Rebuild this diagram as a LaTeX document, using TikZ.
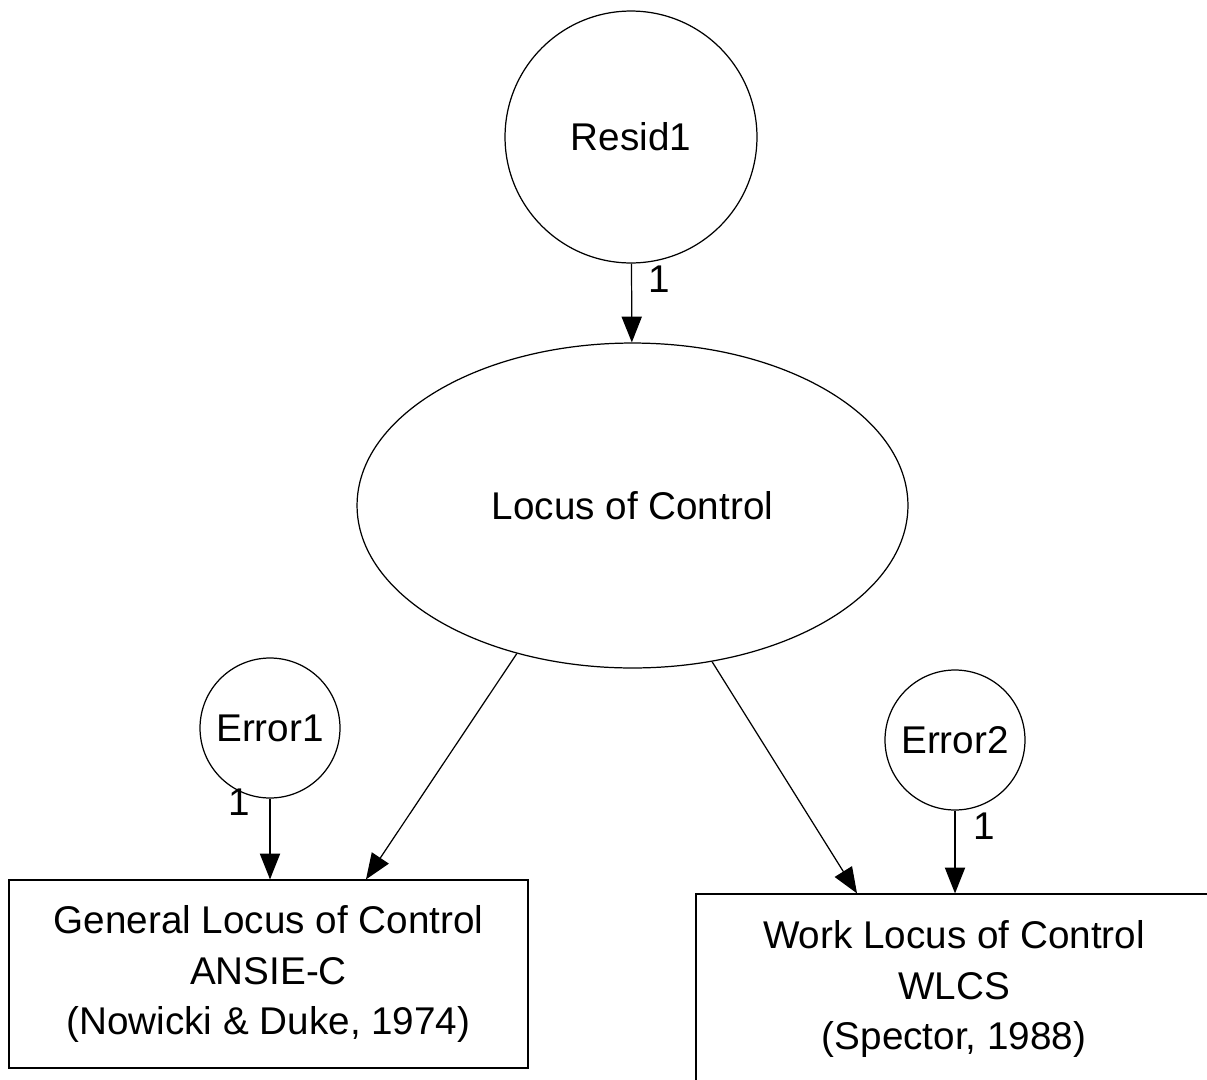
\documentclass[tikz,border=0pt]{standalone}
\usepackage{fontspec}
\setmainfont{Liberation Sans}
\usetikzlibrary{arrows.meta,shapes.geometric}
\begin{document}
\begin{tikzpicture}[x=0.02cm, y=-0.02cm, >={Triangle[length=14.7pt,width=11.5pt]},
    every node/.style={font=\fontsize{22}{29}\selectfont, line width=0.7pt},
    latent/.style={draw, circle, inner sep=0pt},
    obs/.style={draw, rectangle, align=center, inner sep=0pt},
    path/.style={->, line width=0.7pt},
    one/.style={font=\fontsize{22}{29}\selectfont, inner sep=0pt}]
\useasboundingbox (0,0) rectangle (1207,1079);
\clip (0,0) rectangle (1207,1079);
\node[latent, minimum size=5.04cm] (resid) at (631,137) {Resid1};
\node[draw, ellipse, minimum width=11.02cm, minimum height=6.5cm, inner sep=0pt] (loc) at (632.5,505.5) {Locus of Control};
\node[latent, minimum size=2.8cm] (err1) at (270,728) {Error1};
\node[latent, minimum size=2.8cm] (err2) at (955,740) {Error2};
\node[obs, minimum width=10.38cm, minimum height=3.76cm] (gen) at (268.5,974)
    {General Locus of Control\\ANSIE-C\\(Nowicki \& Duke, 1974)};
\node[obs, minimum width=10.32cm, minimum height=3.8cm] (work) at (954,989)
    {Work Locus of Control\\WLCS\\(Spector, 1988)};
% paths
\draw[path] (resid) -- node[one, pos=.2, right=9pt]{1} (loc);
\draw[path] (err1) -- node[one, pos=.05, left=11pt]{1} (err1 |- gen.north);
\draw[path] (err2) -- node[one, pos=.19, right=10pt]{1} (err2 |- work.north);
\draw[path] (loc.232) -- ([xshift=1.95cm]gen.north);
\draw[path] (loc.297) -- ([xshift=-1.94cm]work.north);
\end{tikzpicture}
\end{document}
